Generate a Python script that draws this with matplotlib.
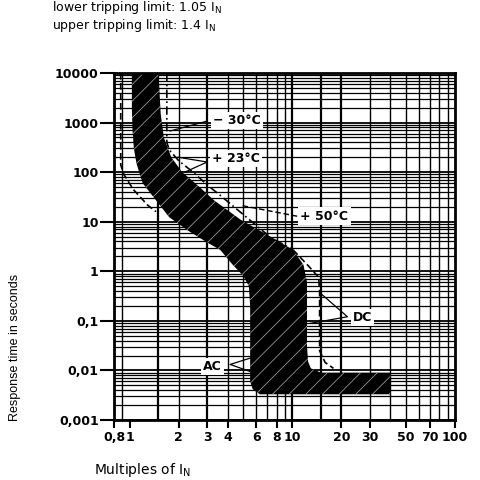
import matplotlib.pyplot as plt
import numpy as np

plt.rcParams['hatch.linewidth'] = 0.5
plt.rcParams['font.family'] = 'DejaVu Sans'

# tripping band at +23 °C (multiples of I_N, seconds)
lower_I = [1.03, 1.03, 1.04, 1.06, 1.10, 1.20, 1.45, 1.75, 2.30, 3.00, 3.60, 4.30, 5.00, 5.40, 5.50, 5.50, 5.70, 6.30]
lower_t = [10000, 2000, 700, 300, 150, 60, 27, 12.3, 6.5, 3.8, 2.7, 1.35, 0.8, 0.5, 0.2, 0.006, 0.0042, 0.0033]
upper_I = [40, 40, 15, 13, 12.5, 12.3, 12.3, 11.7, 10.1, 7.5, 4.8, 3.3, 2.6, 2.1, 1.8, 1.62, 1.55, 1.5]
upper_t = [0.0033, 0.009, 0.009, 0.011, 0.015, 0.03, 0.6, 1.35, 2.7, 4.8, 11, 27, 55, 100, 200, 500, 1500, 10000]

# temperature / DC curves
m30_I = [1.69, 1.69, 1.75, 2.0, 2.45, 3.0, 3.6, 5.05, 7.3, 10.1]
m30_t = [10000, 400, 280, 170, 100, 55, 34, 13.5, 4.9, 2.7]
p50_I = [0.88, 0.88, 0.92, 1.05, 1.29, 1.45]
p50_t = [10000, 140, 90, 45, 21.5, 16]
dc_I = [10.1, 12.5, 14.5, 14.7, 14.7, 15.9, 17.9]
dc_t = [2.7, 1.3, 0.76, 0.4, 0.025, 0.0145, 0.011]

xticks = [0.8, 1, 2, 3, 4, 6, 8, 10, 20, 30, 50, 70, 100]
xlabels = ["0,8", "1", "2", "3", "4", "6", "8", "10", "20", "30", "50", "70", "100"]
yticks = [0.001, 0.01, 0.1, 1, 10, 100, 1000, 10000]
ylabels = ["0,001", "0,01", "0,1", "1", "10", "100", "1000", "10000"]
xgrid = [0.9, 1.5, 2, 3, 4, 5, 6, 7, 8, 9, 10, 15, 20, 30, 40, 50, 60, 70, 80, 90]

fig = plt.figure(figsize=(4.8, 4.8), dpi=100)
ax = fig.add_axes([114 / 480, 60 / 480, 341 / 480, 347 / 480])
ax.set_xscale('log')
ax.set_yscale('log')
ax.set_xlim(0.8, 100)
ax.set_ylim(0.001, 10000)

# dense grid
for x in xgrid:
    lw = 1.6 if x in (1.5, 3, 10, 15, 20) else 1.0
    ax.axvline(x, color='black', lw=lw, zorder=1)
for e in range(-3, 4):
    for k in range(1, 10):
        ax.axhline(k * 10.0 ** e, color='black', lw=1.3 if k == 1 else 0.9, zorder=1)

# band
band_I = lower_I + upper_I
band_t = lower_t + upper_t
ax.fill(band_I, band_t, facecolor='black', edgecolor='#b0b0b0', hatch='//',
        linewidth=0, zorder=2)

ax.plot(m30_I, m30_t, color='black', lw=1.2, ls=(0, (5, 2, 1, 2)), zorder=3)
ax.plot(p50_I, p50_t, color='black', lw=1.2, ls=(0, (4, 2)), zorder=3)
ax.plot(dc_I, dc_t, color='black', lw=1.2, ls=(0, (4, 2)), zorder=3)

# leaders
ax.plot([2.99, 1.77], [1070, 675], color='black', lw=0.9, zorder=3)
ax.plot([1.98, 2.99, 2.18], [200, 160, 100], color='black', lw=0.9, zorder=3)
ax.plot([10.7, 4.77], [12.9, 21.5], color='black', lw=1.0, ls=(0, (4, 2)), zorder=3)
ax.plot([14.9, 21.8, 12.9], [0.36, 0.121, 0.089], color='black', lw=0.9, zorder=3)
ax.plot([5.5, 4.14, 5.5], [0.0177, 0.0132, 0.0095], color='black', lw=0.9, zorder=3)

box = dict(facecolor='white', edgecolor='none', pad=1.5)
lab = dict(fontsize=9, fontweight='bold', va='center', zorder=4, bbox=box)
ax.text(3.25, 1120, "\u2212 30°C", ha='left', **lab)
ax.text(3.2, 190, "+ 23°C", ha='left', **lab)
ax.text(11.2, 13, "+ 50°C", ha='left', **lab)
ax.text(23.5, 0.118, "DC", ha='left', **lab)
ax.text(3.7, 0.012, "AC", ha='right', **lab)

ax.set_xticks(xticks)
ax.set_xticklabels(xlabels, fontsize=9, fontweight='bold')
ax.set_yticks(yticks)
ax.set_yticklabels(ylabels, fontsize=9, fontweight='bold')
ax.minorticks_off()
ax.tick_params(axis='y', length=10, width=1.5, pad=1)
ax.tick_params(axis='x', length=6, width=1.5, pad=2)
for s in ax.spines.values():
    s.set_linewidth(2)
    s.set_zorder(5)

fig.text(52 / 480, 1 - 8 / 480, r"lower tripping limit: 1.05 I$_\mathrm{N}$", fontsize=9, va='center')
fig.text(52 / 480, 1 - 25 / 480, r"upper tripping limit: 1.4 I$_\mathrm{N}$", fontsize=9, va='center')
fig.text(15 / 480, 1 - 347 / 480, "Response time in seconds", rotation=90, fontsize=9,
         family='Liberation Sans', ha='center', va='center')
fig.text(94 / 480, 1 - 470 / 480, r"Multiples of I$_\mathrm{N}$", fontsize=10, va='center')

fig.savefig('out.png', dpi=100)
